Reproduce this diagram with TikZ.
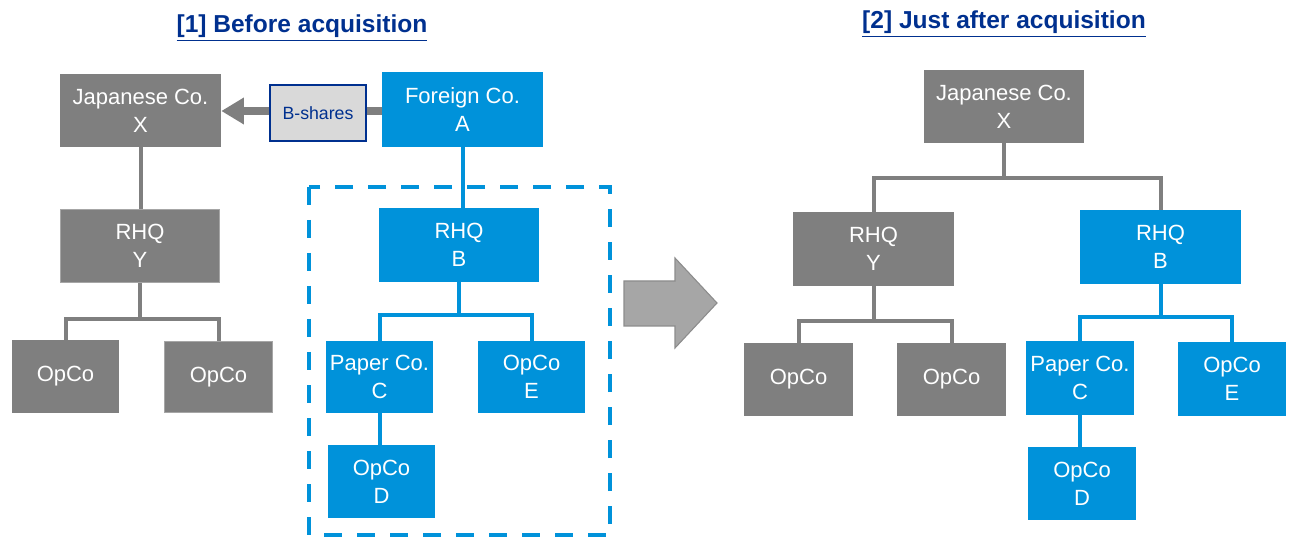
\documentclass[tikz,border=0pt]{standalone}
\usepackage{fontspec}
\setmainfont{Liberation Sans}
\usetikzlibrary{arrows.meta}
\definecolor{boxgray}{RGB}{127,127,127}
\definecolor{boxblue}{RGB}{0,146,218}
\definecolor{navy}{RGB}{0,48,143}
\definecolor{edgegray}{RGB}{166,166,166}
\definecolor{sharefill}{RGB}{217,217,217}
\definecolor{arrowfill}{RGB}{166,166,166}
\definecolor{arrowedge}{RGB}{140,140,140}

\begin{document}
\begin{tikzpicture}[x=0.75pt,y=-0.75pt,
  sz/.style 2 args={minimum width=#1*0.75pt, minimum height=#2*0.75pt},
  company/.style={inner sep=0pt, align=center, text=white,
    font=\fontsize{16.5}{21}\selectfont},
  graybox/.style={company, fill=boxgray},
  bluebox/.style={company, fill=boxblue},
  rimmed/.style={draw=edgegray, line width=1.1pt},
  grayline/.style={draw=boxgray, line width=3pt},
  blueline/.style={draw=boxblue, line width=3pt},
  title/.style={anchor=base, text=navy, font=\fontsize{18.4}{22}\selectfont\bfseries},
  sharebox/.style={inner sep=0pt, fill=sharefill, draw=navy, line width=1.1pt,
    text=navy, font=\fontsize{13.3}{16}\selectfont},
]
\useasboundingbox (0,0) rectangle (1289,538);

% ---------- titles ----------
\node[title] (t1) at (302,33) {\underline{[1] Before acquisition}};
\node[title] (t2) at (1004,29) {\underline{[2] Just after acquisition}};

% ---------- [1] before ----------
\draw[boxblue, line width=3pt, dash pattern=on 13.5pt off 11.25pt]
  (309,187) rectangle (610,535);

\node[graybox, sz={161}{73}] (X1) at (140.5,110.5) {Japanese Co.\\X};
\node[bluebox, sz={161}{75}] (A1) at (462.5,109.5) {Foreign Co.\\A};
\node[sharebox, sz={96}{56}] (S1) at (318,113) {B-shares};

\node[graybox, rimmed, sz={159}{73}] (Y1) at (140,246) {RHQ\\Y};
\node[bluebox, sz={160}{74}] (B1) at (459,245) {RHQ\\B};

\node[graybox, sz={107}{73}] (O1L) at (65.5,376.5) {OpCo};
\node[graybox, rimmed, sz={108}{71}] (O1R) at (218.5,377) {OpCo};
\node[bluebox, sz={107}{72}] (C1) at (379.5,377) {Paper Co.\\C};
\node[bluebox, sz={107}{72}] (E1) at (531.5,377) {OpCo\\E};
\node[bluebox, sz={107}{73}] (D1) at (381.5,481.5) {OpCo\\D};

% B-shares handed to the Japanese company
\draw[boxgray, line width=6pt, -{Triangle[length=17pt, width=19pt]}]
  (S1.west |- 0,111) -- (X1.east |- 0,111);
\draw[boxgray, line width=6pt] (S1.east |- 0,111) -- (A1.west |- 0,111);

\draw[grayline] (X1.south) -- (X1.south |- Y1.north);
\draw[grayline] (Y1.south) -- (Y1.south |- 0,319);
\draw[grayline] (O1L.north) |- (O1R.north |- 0,319) -- (O1R.north);

\draw[blueline] (A1.south) -- (A1.south |- B1.north);
\draw[blueline] (B1.south) -- (B1.south |- 0,315);
\draw[blueline] (C1.north) |- (E1.north |- 0,315) -- (E1.north);
\draw[blueline] (C1.south) -- (C1.south |- D1.north);

% ---------- transition arrow ----------
\draw[fill=arrowfill, draw=arrowedge, line width=0.8pt]
  (624,281) -- (675,281) -- (675,258) -- (717,303) -- (675,348)
  -- (675,326) -- (624,326) -- cycle;

% ---------- [2] just after ----------
\node[graybox, sz={160}{73}] (X2) at (1004,106.5) {Japanese Co.\\X};
\node[graybox, sz={161}{74}] (Y2) at (873.5,249) {RHQ\\Y};
\node[bluebox, sz={161}{74}] (B2) at (1160.5,247) {RHQ\\B};

\node[graybox, sz={109}{73}] (O2L) at (798.5,379.5) {OpCo};
\node[graybox, sz={109}{73}] (O2R) at (951.5,379.5) {OpCo};
\node[bluebox, sz={108}{74}] (C2) at (1080,378) {Paper Co.\\C};
\node[bluebox, sz={108}{74}] (E2) at (1232,379) {OpCo\\E};
\node[bluebox, sz={108}{73}] (D2) at (1082,483.5) {OpCo\\D};

\draw[grayline] (X2.south) -- (X2.south |- 0,178);
\draw[grayline] (Y2.north) |- (B2.north |- 0,178) -- (B2.north);
\draw[grayline] (Y2.south) -- (Y2.south |- 0,321);
\draw[grayline] (O2L.north) |- (O2R.north |- 0,321) -- (O2R.north);

\draw[blueline] (B2.south) -- (B2.south |- 0,317);
\draw[blueline] (C2.north) |- (E2.north |- 0,317) -- (E2.north);
\draw[blueline] (C2.south) -- (C2.south |- D2.north);
\end{tikzpicture}
\end{document}
